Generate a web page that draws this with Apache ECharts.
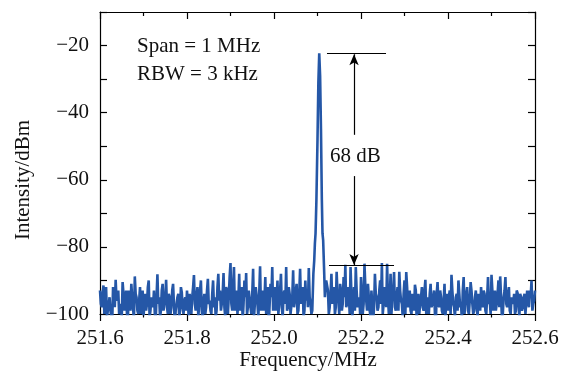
<!DOCTYPE html>
<html><head><meta charset="utf-8">
<script src="https://cdn.jsdelivr.net/npm/echarts@6/dist/echarts.min.js"></script>
<style>html,body{margin:0;padding:0;background:#fff}#c{width:566px;height:372px}</style>
</head><body><div id="c"></div>
<script>
// ---- data ----
const xTicks = [251.6, 251.8, 252.0, 252.2, 252.4, 252.6];
const yTicks = [-100, -80, -60, -40, -20];
const noiseStep = 0.004;           // grid of the A samples; B samples sit half a step later
const noiseLeftStart = 251.600;
const noiseLeft = [
 -93,-98,-91.5,-96,-101,-97,-99,-103,-94,-89.8,
 -95,-100,-97,-90.5,-99,-93,-102,-96,-91,-98,
 -88.8,-95,-100,-92,-98,-101,-94,-97,-90,-99,
 -96,-93,-102,-88.2,-95,-99,-91,-97,-89.8,-100,
 -95,-98,-91,-103,-97,-94,-99,-93.5,-100,-95,
 -93,-101,-97,-95,-88.4,-99,-92,-97,-90,-102,
 -94,-98,-89.5,-96,-100,-90,-95,-99,-88,-93,
 -97,-87.8,-101,-93,-95,-84.8,-99,-86,-96,-100,
 -88,-95,-102,-90,-87.8,-98,-93,-100,-86.5,-97,
 -92,-101,-85.8,-96,-99,-89,-94,-103,-91,-86,
 -95,-99,-90,-97,-88,-101,-93,-86,-98,-94,
 -100,-87,-96,-91,-99,-86.5,-95,-101,-90,-93,
 -86.3,-97
];
const noiseLeftB = [
 -97,-94,-100,-92,-99,-95,-101,-92,-98,-96,
 -93,-98,-101,-94,-96,-100,-93,-99,-95,-102,
 -94,-99,-96,-100,-93,-97,-99,-92,-101,-95,
 -98,-100,-95,-97,-101,-93,-99,-95,-98,-94,
 -100,-93,-97,-99,-95,-101,-92,-98,-96,-99,
 -97,-94,-100,-92,-97,-95,-101,-93,-99,-96,
 -100,-93,-97,-99,-94,-98,-101,-92,-96,-99,
 -94,-98,-92,-100,-89,-97,-92,-99,-93,-96,
 -99,-92,-97,-95,-100,-93,-98,-94,-101,-92,
 -97,-94,-99,-93,-96,-100,-92,-97,-95,-99,
 -92,-96,-100,-93,-98,-94,-97,-99,-92,-100,
 -95,-98,-93,-100,-94,-97,-92,-99,-96,-98,
 -95,-100
];
const peakFreq = [252.088,252.0905,252.0925,252.094,252.0955,252.0975,252.100,252.102,252.104,252.106,252.108,252.110,252.1115,252.113,252.115,252.117,252.120];
const peakVal  = [-99,-88,-84,-79,-76,-66,-48,-31,-22.3,-29,-45,-66,-76,-78,-86,-95,-90];
const noiseRightStart = 252.124;
const noiseRight = [
 -93,-98,-88,-95,-100,-87.4,-96,-91,-99,
 -89,-85.3,-97,-94,-86,-101,-92,-86,-98,-95,
 -89,-100,-85,-96,-91,-99,-93,-102,-88,-95,
 -98,-90,-84.8,-97,-93,-85,-100,-88,-95,-87.5,
 -99,-92,-87.4,-96,-101,-90,-87.5,-98,-93,-100,
 -96,-91.3,-102,-94,-97,-92,-99,-89.8,-95,-100,
 -91,-97,-93,-103,-90.5,-98,-95,-100,-91,-96,
 -99,-93,-88.3,-97,-101,-94,-90,-98,-102,-89,
 -96,-92,-100,-90.5,-97,-99,-93,-101,-95,-92,
 -98,-94,-100,-89,-96,-88.3,-99,-93,-97,-90,
 -88.8,-101,-95,-89,-98,-92,-100,-96,-94,-99,
 -93.8,-101,-95,-98,-94,-100,-96,-93,-90,-97,-93
];
const noiseRightB = [
 -100,-94,-97,-92,-98,-94,-100,-93,-97,
 -95,-98,-92,-100,-94,-97,-99,-93,-96,-100,
 -94,-97,-92,-99,-95,-101,-93,-98,-94,-99,
 -93,-97,-100,-92,-98,-95,-96,-100,-93,-98,
 -95,-99,-93,-97,-94,-100,-92,-96,-99,-94,
 -99,-93,-97,-100,-95,-98,-93,-100,-96,-94,
 -98,-95,-100,-94,-97,-93,-99,-96,-101,-94,
 -95,-100,-93,-98,-95,-99,-94,-97,-93,-100,
 -94,-99,-96,-93,-100,-95,-98,-94,-99,-96,
 -93,-99,-95,-97,-100,-93,-96,-99,-94,-98,
 -95,-100,-93,-97,-94,-99,-95,-97,-100,-93,
 -97,-94,-99,-95,-100,-93,-98,-95,-99,-96
];
// annotation values
const peakLevel = -22.4, floorLevel = -85.6;
const annotX = 252.184;

// ---- build series ----
const pts = [];
function addNoise(start, a, b){
  a.forEach((v,i)=>{
    pts.push([+(start+i*noiseStep).toFixed(4), v]);
    if (i < b.length) pts.push([+(start+i*noiseStep+noiseStep/2).toFixed(4), b[i]]);
  });
}
addNoise(noiseLeftStart, noiseLeft, noiseLeftB);
peakFreq.forEach((f,i)=>pts.push([f, peakVal[i]]));
addNoise(noiseRightStart, noiseRight, noiseRightB);

const FONT = 'Liberation Serif';
const black = '#000';
const minus = v => (v<0 ? '\u2212' + Math.abs(v) : String(v));

const chart = echarts.init(document.getElementById('c'), null, {renderer:'canvas'});
chart.setOption({
  animation:false,
  backgroundColor:'#fff',
  grid:{left:100, right:31, top:12, bottom:58, containLabel:false, outerBoundsMode:'none'},
  xAxis:[{
    type:'value', min:251.6, max:252.6, interval:0.2, position:'bottom',
    axisLine:{show:true, onZero:false, lineStyle:{color:black, width:1.2}},
    axisTick:{show:true, inside:false, length:7, lineStyle:{color:black, width:1.2}},
    minorTick:{show:true, splitNumber:2, length:3.5, lineStyle:{color:black, width:1.2}},
    splitLine:{show:false},
    axisLabel:{fontFamily:FONT, fontSize:21, color:'#111', margin:14, formatter:v=>v.toFixed(1)}
  },{
    type:'value', min:251.6, max:252.6, interval:0.2, position:'top',
    axisLine:{show:true, onZero:false, lineStyle:{color:black, width:1.2}},
    axisTick:{show:true, inside:true, length:7, lineStyle:{color:black, width:1.2}},
    minorTick:{show:true, splitNumber:2, length:4, lineStyle:{color:black, width:1.2}},
    splitLine:{show:false}, axisLabel:{show:false}
  }],
  yAxis:[{
    type:'value', min:-100, max:-10, interval:10, position:'left',
    axisLine:{show:true, onZero:false, lineStyle:{color:black, width:1.2}},
    axisTick:{show:true, inside:true, length:7, lineStyle:{color:black, width:1.2}},
    splitLine:{show:false},
    axisLabel:{fontFamily:FONT, fontSize:21, color:'#111', margin:11,
      formatter:v=> (yTicks.indexOf(v)>=0 ? minus(v) : '')}
  },{
    type:'value', min:-100, max:-10, interval:10, position:'right',
    axisLine:{show:true, onZero:false, lineStyle:{color:black, width:1.2}},
    axisTick:{show:true, inside:true, length:7, lineStyle:{color:black, width:1.2}},
    splitLine:{show:false}, axisLabel:{show:false}
  }],
  series:[{
    type:'line', data:pts, xAxisIndex:0, yAxisIndex:0,
    showSymbol:false, symbol:'none', clip:true,
    lineStyle:{color:'#2557a7', width:2.6},
    markLine:{
      silent:true, animation:false,
      lineStyle:{color:black, width:1.2, type:'solid'},
      label:{show:false},
      symbolSize:[7,11],
      data:[
        [{coord:[252.1218, peakLevel], symbol:'none'},{coord:[252.2575, peakLevel], symbol:'none'}],
        [{coord:[252.1264, floorLevel], symbol:'none'},{coord:[252.2759, floorLevel], symbol:'none'}],
        [{coord:[annotX, -46.6], symbol:'none'},{coord:[annotX, peakLevel-0.2], symbol:'arrow'}],
        [{coord:[annotX, -58.9], symbol:'none'},{coord:[annotX, floorLevel+0.2], symbol:'arrow'}]
      ]
    }
  }],
  graphic:[
    {type:'text', left:137, top:36, style:{text:'Span = 1 MHz', font:'21px "Liberation Serif"', fill:'#111'}},
    {type:'text', left:137, top:64, style:{text:'RBW = 3 kHz', font:'21px "Liberation Serif"', fill:'#111'}},
    {type:'text', left:330, top:146, style:{text:'68 dB', font:'21px "Liberation Serif"', fill:'#111'}},
    {type:'text', x:308, y:360, style:{text:'Frequency/MHz', font:'21px "Liberation Serif"', fill:'#111', align:'center', verticalAlign:'middle'}},
    {type:'text', x:23, y:180, rotation:Math.PI/2,
      style:{text:'Intensity/dBm', font:'21px "Liberation Serif"', fill:'#111', align:'center', verticalAlign:'middle'}}
  ]
});
</script></body></html>
